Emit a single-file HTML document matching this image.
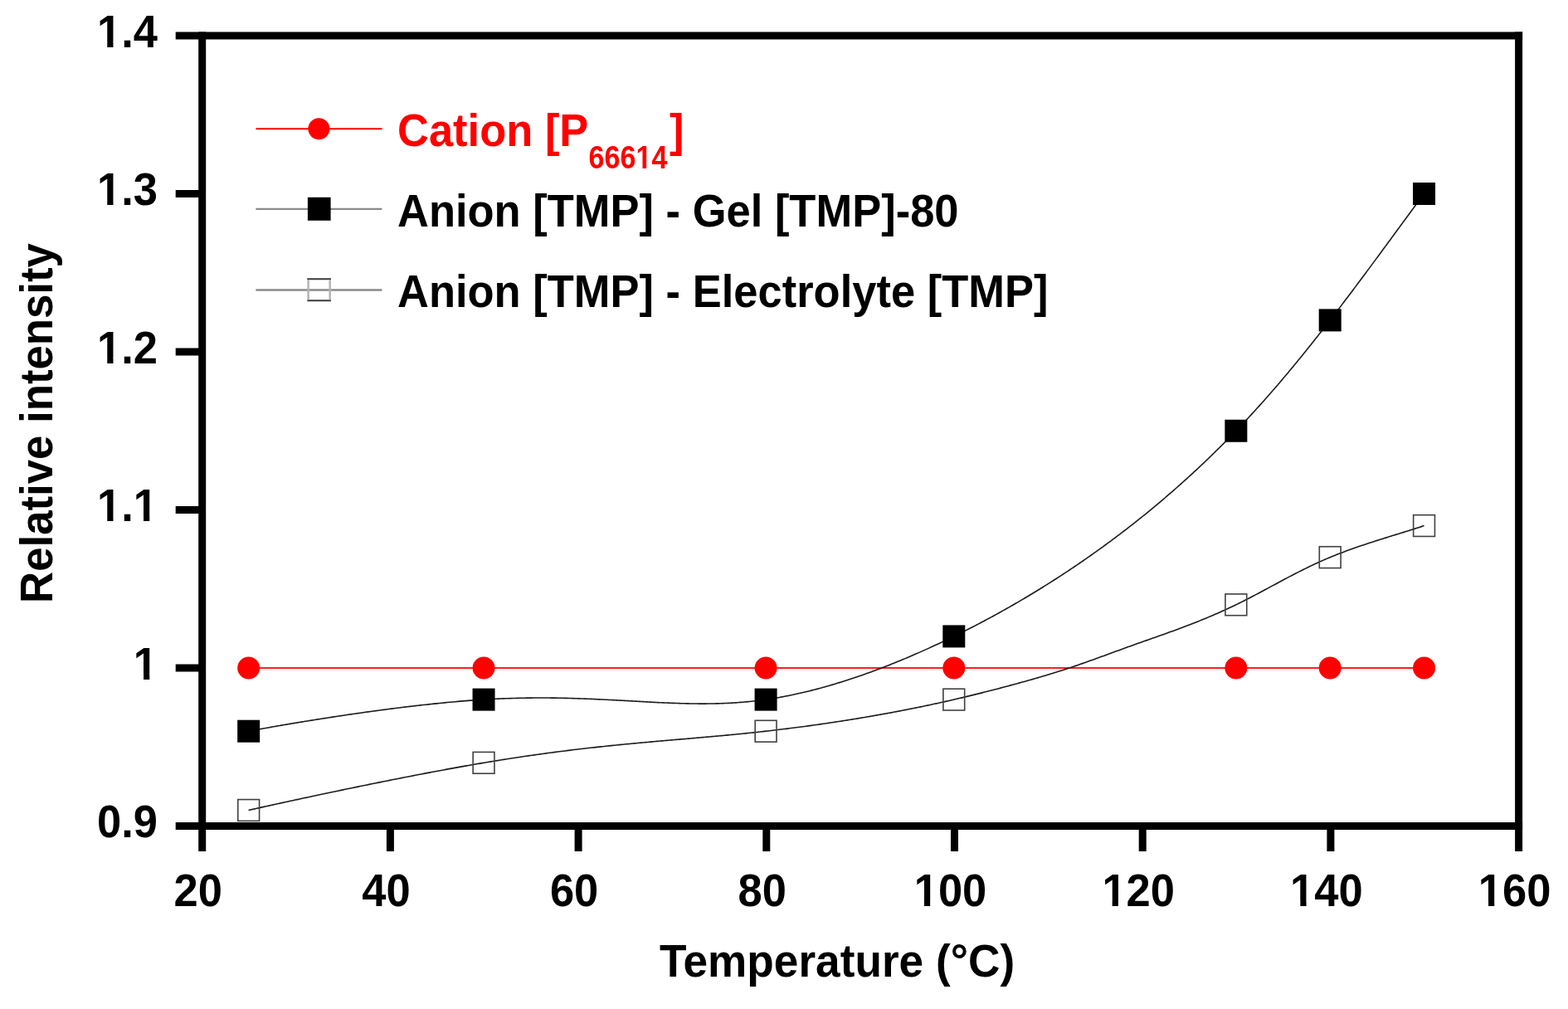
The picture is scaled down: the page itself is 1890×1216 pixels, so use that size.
<!DOCTYPE html>
<html><head><meta charset="utf-8"><title>Relative intensity vs Temperature</title>
<style>
html,body{margin:0;padding:0;background:#fff;}
body{width:1890px;height:1216px;overflow:hidden;}
svg{display:block;}
text{font-family:"Liberation Sans", Arial, Helvetica, sans-serif;font-weight:bold;}
</style></head><body>
<svg width="1890" height="1216" viewBox="0 0 1890 1216">
<rect width="1890" height="1216" fill="#fff"/>

<line x1="299.68" y1="805.00" x2="1716.55" y2="805.00" stroke="#ff2020" stroke-width="2"/>
<circle cx="299.68" cy="805.00" r="13.5" fill="#ff0000"/>
<circle cx="583.05" cy="805.00" r="13.5" fill="#ff0000"/>
<circle cx="923.10" cy="805.00" r="13.5" fill="#ff0000"/>
<circle cx="1149.80" cy="805.00" r="13.5" fill="#ff0000"/>
<circle cx="1489.85" cy="805.00" r="13.5" fill="#ff0000"/>
<circle cx="1603.20" cy="805.00" r="13.5" fill="#ff0000"/>
<circle cx="1716.55" cy="805.00" r="13.5" fill="#ff0000"/>
<polyline points="299.68,881.20 299.71,881.19 299.81,881.18 299.97,881.14 300.20,881.10 300.48,881.05 300.84,880.98 301.25,880.90 301.73,880.81 302.26,880.71 302.86,880.60 303.51,880.48 304.23,880.35 305.00,880.21 305.83,880.06 306.71,879.89 307.65,879.72 308.65,879.54 309.70,879.35 310.80,879.15 311.96,878.94 313.17,878.72 314.43,878.49 315.74,878.26 317.10,878.01 318.52,877.76 319.98,877.50 321.49,877.23 323.04,876.95 324.65,876.67 326.30,876.38 327.99,876.08 329.74,875.78 331.52,875.47 333.35,875.15 335.22,874.83 337.14,874.50 339.09,874.16 341.09,873.82 343.13,873.47 345.20,873.12 347.32,872.76 349.47,872.40 351.67,872.03 353.89,871.65 356.16,871.28 358.46,870.89 360.79,870.51 363.16,870.12 365.57,869.72 368.00,869.33 370.47,868.93 372.97,868.52 375.50,868.11 378.06,867.70 380.65,867.29 383.27,866.88 385.91,866.46 388.59,866.04 391.29,865.62 394.01,865.19 396.77,864.77 399.54,864.34 402.34,863.91 405.17,863.48 408.01,863.05 410.88,862.62 413.77,862.19 416.68,861.76 419.62,861.33 422.57,860.89 425.53,860.46 428.52,860.03 431.53,859.60 434.55,859.17 437.58,858.74 440.63,858.31 443.70,857.89 446.78,857.46 449.88,857.04 452.98,856.61 456.10,856.19 459.23,855.78 462.37,855.36 465.52,854.95 468.68,854.54 471.85,854.13 475.02,853.73 478.20,853.32 481.39,852.93 484.59,852.53 487.79,852.14 490.99,851.76 494.20,851.38 497.41,851.00 500.63,850.62 503.84,850.26 507.06,849.89 510.28,849.53 513.49,849.18 516.71,848.83 519.92,848.49 523.13,848.16 526.34,847.83 529.55,847.50 532.75,847.18 535.95,846.87 539.14,846.57 542.32,846.27 545.50,845.98 548.67,845.70 551.83,845.42 554.98,845.15 558.12,844.89 561.25,844.64 564.38,844.40 567.48,844.16 570.58,843.93 573.66,843.72 576.73,843.51 579.79,843.30 582.83,843.11 585.85,842.93 588.86,842.76 591.86,842.60 594.83,842.44 597.80,842.30 600.74,842.16 603.68,842.03 606.59,841.91 609.50,841.80 612.38,841.70 615.26,841.60 618.12,841.51 620.96,841.43 623.79,841.36 626.61,841.30 629.41,841.24 632.20,841.19 634.98,841.15 637.74,841.11 640.49,841.08 643.23,841.06 645.95,841.04 648.66,841.03 651.36,841.03 654.04,841.03 656.72,841.04 659.38,841.05 662.02,841.07 664.66,841.10 667.28,841.13 669.90,841.16 672.50,841.20 675.09,841.25 677.66,841.30 680.23,841.35 682.79,841.41 685.33,841.48 687.86,841.54 690.39,841.62 692.90,841.69 695.40,841.77 697.89,841.85 700.38,841.94 702.85,842.03 705.31,842.12 707.76,842.22 710.21,842.32 712.64,842.42 715.06,842.52 717.48,842.63 719.88,842.74 722.28,842.85 724.67,842.96 727.05,843.07 729.42,843.19 731.78,843.31 734.14,843.43 736.48,843.55 738.82,843.67 741.15,843.79 743.47,843.92 745.79,844.04 748.10,844.17 750.40,844.29 752.69,844.42 754.98,844.55 757.26,844.67 759.53,844.80 761.80,844.92 764.06,845.05 766.31,845.17 768.56,845.30 770.80,845.42 773.03,845.54 775.26,845.66 777.49,845.78 779.71,845.90 781.92,846.02 784.13,846.14 786.33,846.25 788.53,846.36 790.72,846.47 792.91,846.58 795.09,846.68 797.27,846.78 799.45,846.88 801.62,846.98 803.78,847.07 805.95,847.16 808.11,847.25 810.26,847.33 812.42,847.41 814.56,847.49 816.71,847.56 818.85,847.63 820.99,847.69 823.13,847.75 825.27,847.81 827.40,847.86 829.53,847.91 831.65,847.95 833.78,847.99 835.90,848.02 838.02,848.04 840.14,848.06 842.26,848.08 844.38,848.09 846.50,848.09 848.61,848.09 850.72,848.08 852.84,848.07 854.95,848.05 857.06,848.02 859.17,847.98 861.28,847.94 863.39,847.89 865.50,847.84 867.61,847.78 869.72,847.71 871.83,847.63 873.95,847.54 876.06,847.45 878.17,847.35 880.28,847.24 882.40,847.12 884.52,846.99 886.63,846.86 888.75,846.72 890.87,846.56 892.99,846.40 895.12,846.23 897.24,846.05 899.37,845.86 901.50,845.66 903.64,845.46 905.77,845.24 907.91,845.01 910.05,844.77 912.19,844.52 914.34,844.26 916.49,843.99 918.64,843.71 920.80,843.42 922.96,843.12 925.13,842.81 927.29,842.48 929.47,842.15 931.64,841.80 933.82,841.44 936.00,841.07 938.19,840.70 940.38,840.31 942.57,839.91 944.76,839.50 946.96,839.07 949.16,838.64 951.37,838.20 953.58,837.75 955.79,837.29 958.00,836.81 960.21,836.33 962.43,835.84 964.65,835.34 966.88,834.83 969.10,834.30 971.33,833.77 973.56,833.23 975.79,832.68 978.03,832.12 980.27,831.55 982.50,830.97 984.74,830.38 986.99,829.79 989.23,829.18 991.48,828.57 993.73,827.94 995.98,827.31 998.23,826.67 1000.48,826.02 1002.73,825.36 1004.99,824.69 1007.25,824.01 1009.50,823.33 1011.76,822.63 1014.02,821.93 1016.29,821.22 1018.55,820.50 1020.81,819.78 1023.07,819.04 1025.34,818.30 1027.60,817.55 1029.87,816.79 1032.14,816.03 1034.40,815.25 1036.67,814.47 1038.94,813.68 1041.21,812.89 1043.47,812.08 1045.74,811.27 1048.01,810.45 1050.28,809.63 1052.55,808.80 1054.82,807.96 1057.08,807.11 1059.35,806.26 1061.62,805.40 1063.89,804.53 1066.15,803.66 1068.42,802.78 1070.68,801.89 1072.95,800.99 1075.21,800.09 1077.47,799.19 1079.74,798.28 1082.00,797.36 1084.26,796.43 1086.52,795.50 1088.77,794.56 1091.03,793.62 1093.29,792.67 1095.54,791.72 1097.79,790.76 1100.05,789.79 1102.30,788.82 1104.54,787.84 1106.79,786.86 1109.03,785.87 1111.28,784.88 1113.52,783.88 1115.76,782.88 1117.99,781.87 1120.23,780.86 1122.46,779.84 1124.69,778.82 1126.92,777.79 1129.15,776.76 1131.37,775.72 1133.59,774.68 1135.81,773.63 1138.02,772.58 1140.24,771.52 1142.45,770.46 1144.65,769.40 1146.86,768.33 1149.06,767.26 1151.26,766.19 1153.45,765.11 1155.65,764.02 1157.84,762.93 1160.02,761.84 1162.21,760.75 1164.39,759.65 1166.56,758.54 1168.74,757.43 1170.91,756.32 1173.08,755.21 1175.24,754.09 1177.40,752.96 1179.56,751.84 1181.72,750.71 1183.87,749.57 1186.02,748.43 1188.16,747.29 1190.31,746.14 1192.45,744.99 1194.58,743.84 1196.72,742.68 1198.85,741.52 1200.97,740.35 1203.10,739.18 1205.22,738.01 1207.34,736.83 1209.45,735.65 1211.56,734.47 1213.67,733.28 1215.78,732.09 1217.88,730.89 1219.98,729.69 1222.07,728.49 1224.16,727.28 1226.25,726.07 1228.34,724.85 1230.42,723.64 1232.50,722.41 1234.58,721.19 1236.65,719.96 1238.72,718.73 1240.79,717.49 1242.85,716.25 1244.92,715.00 1246.97,713.76 1249.03,712.51 1251.08,711.25 1253.13,709.99 1255.17,708.73 1257.21,707.46 1259.25,706.19 1261.28,704.92 1263.32,703.64 1265.34,702.36 1267.37,701.08 1269.39,699.79 1271.41,698.50 1273.43,697.21 1275.44,695.91 1277.45,694.61 1279.45,693.30 1281.46,691.99 1283.45,690.68 1285.45,689.37 1287.44,688.05 1289.43,686.73 1291.42,685.40 1293.40,684.07 1295.38,682.74 1297.36,681.40 1299.33,680.06 1301.30,678.72 1303.27,677.37 1305.23,676.02 1307.19,674.67 1309.14,673.31 1311.10,671.95 1313.05,670.58 1314.99,669.22 1316.94,667.85 1318.88,666.47 1320.81,665.10 1322.75,663.71 1324.68,662.33 1326.60,660.94 1328.53,659.55 1330.45,658.16 1332.36,656.76 1334.27,655.36 1336.18,653.96 1338.09,652.55 1339.99,651.14 1341.89,649.72 1343.79,648.31 1345.68,646.89 1347.57,645.46 1349.46,644.04 1351.34,642.61 1353.22,641.17 1355.10,639.74 1356.97,638.30 1358.84,636.85 1360.70,635.41 1362.57,633.96 1364.42,632.51 1366.28,631.05 1368.13,629.59 1369.98,628.13 1371.83,626.66 1373.67,625.19 1375.51,623.72 1377.34,622.25 1379.17,620.77 1381.00,619.29 1382.83,617.80 1384.65,616.32 1386.47,614.83 1388.28,613.33 1390.09,611.84 1391.90,610.34 1393.70,608.84 1395.50,607.33 1397.30,605.82 1399.09,604.31 1400.88,602.79 1402.67,601.28 1404.45,599.76 1406.23,598.23 1408.01,596.70 1409.78,595.17 1411.55,593.64 1413.32,592.11 1415.08,590.57 1416.84,589.02 1418.59,587.48 1420.34,585.93 1422.09,584.38 1423.84,582.83 1425.58,581.27 1427.32,579.71 1429.05,578.15 1430.78,576.58 1432.51,575.02 1434.23,573.44 1435.95,571.87 1437.67,570.29 1439.38,568.71 1441.09,567.13 1442.80,565.55 1444.50,563.96 1446.20,562.37 1447.89,560.77 1449.58,559.18 1451.27,557.58 1452.96,555.97 1454.64,554.37 1456.31,552.76 1457.99,551.15 1459.66,549.54 1461.32,547.92 1462.99,546.30 1464.65,544.68 1466.30,543.05 1467.95,541.43 1469.60,539.80 1471.25,538.16 1472.89,536.53 1474.53,534.89 1476.16,533.25 1477.79,531.61 1479.42,529.96 1481.04,528.31 1482.66,526.66 1484.28,525.00 1485.89,523.35 1487.50,521.69 1489.10,520.03 1490.70,518.36 1492.30,516.69 1493.90,515.02 1495.49,513.35 1497.07,511.67 1498.66,510.00 1500.24,508.31 1501.82,506.63 1503.39,504.94 1504.96,503.25 1506.53,501.56 1508.10,499.86 1509.66,498.16 1511.22,496.46 1512.78,494.76 1514.33,493.05 1515.88,491.33 1517.43,489.62 1518.98,487.90 1520.52,486.18 1522.07,484.45 1523.61,482.72 1525.14,480.99 1526.68,479.25 1528.21,477.51 1529.74,475.77 1531.27,474.02 1532.80,472.27 1534.33,470.52 1535.85,468.76 1537.38,467.00 1538.90,465.23 1540.42,463.46 1541.94,461.69 1543.45,459.91 1544.97,458.13 1546.48,456.34 1548.00,454.55 1549.51,452.76 1551.02,450.96 1552.53,449.16 1554.04,447.35 1555.55,445.54 1557.06,443.72 1558.57,441.90 1560.08,440.08 1561.58,438.25 1563.09,436.42 1564.59,434.58 1566.10,432.74 1567.61,430.89 1569.11,429.04 1570.62,427.18 1572.12,425.32 1573.63,423.45 1575.13,421.58 1576.64,419.71 1578.14,417.83 1579.65,415.94 1581.16,414.05 1582.66,412.16 1584.17,410.25 1585.68,408.35 1587.19,406.44 1588.70,404.52 1590.21,402.60 1591.72,400.67 1593.23,398.74 1594.74,396.80 1596.26,394.86 1597.77,392.91 1599.29,390.96 1600.81,389.00 1602.33,387.03 1603.85,385.06 1605.37,383.09 1606.89,381.10 1608.42,379.12 1609.94,377.13 1611.47,375.13 1612.99,373.13 1614.52,371.13 1616.05,369.12 1617.58,367.11 1619.10,365.10 1620.63,363.08 1622.16,361.06 1623.68,359.04 1625.21,357.02 1626.74,355.00 1628.26,352.97 1629.78,350.95 1631.30,348.92 1632.82,346.89 1634.34,344.86 1635.86,342.84 1637.38,340.81 1638.89,338.78 1640.40,336.76 1641.91,334.73 1643.41,332.71 1644.92,330.69 1646.42,328.67 1647.91,326.65 1649.41,324.64 1650.90,322.63 1652.38,320.62 1653.87,318.62 1655.35,316.62 1656.82,314.62 1658.30,312.63 1659.76,310.64 1661.23,308.66 1662.68,306.68 1664.14,304.71 1665.59,302.74 1667.03,300.78 1668.47,298.82 1669.90,296.88 1671.33,294.94 1672.75,293.00 1674.16,291.08 1675.57,289.16 1676.98,287.25 1678.37,285.34 1679.76,283.45 1681.15,281.57 1682.53,279.69 1683.90,277.82 1685.26,275.97 1686.61,274.12 1687.96,272.28 1689.30,270.46 1690.64,268.64 1691.96,266.84 1693.28,265.04 1694.59,263.26 1695.89,261.49 1697.18,259.73 1698.46,257.99 1699.73,256.26 1701.00,254.54 1702.26,252.83 1703.50,251.14 1704.74,249.46 1705.97,247.80 1707.18,246.15 1708.39,244.51 1709.59,242.89 1710.78,241.29 1711.95,239.70 1713.12,238.12 1714.27,236.57 1715.42,235.02 1716.55,233.50" fill="none" stroke="#1a1a1a" stroke-width="1.6" stroke-linejoin="round"/>
<rect x="286.18" y="867.70" width="27.00" height="27.00" fill="#000"/>
<rect x="569.55" y="829.60" width="27.00" height="27.00" fill="#000"/>
<rect x="909.60" y="829.60" width="27.00" height="27.00" fill="#000"/>
<rect x="1136.30" y="753.40" width="27.00" height="27.00" fill="#000"/>
<rect x="1476.35" y="505.75" width="27.00" height="27.00" fill="#000"/>
<rect x="1589.70" y="372.40" width="27.00" height="27.00" fill="#000"/>
<rect x="1703.05" y="220.00" width="27.00" height="27.00" fill="#000"/>
<polyline points="299.68,976.45 299.70,976.44 299.78,976.43 299.90,976.40 300.08,976.36 300.30,976.31 300.58,976.25 300.90,976.17 301.27,976.09 301.69,976.00 302.15,975.89 302.66,975.78 303.22,975.65 303.82,975.52 304.47,975.37 305.16,975.22 305.89,975.05 306.67,974.88 307.50,974.69 308.36,974.50 309.27,974.30 310.22,974.08 311.21,973.86 312.24,973.63 313.31,973.39 314.43,973.15 315.58,972.89 316.77,972.63 318.00,972.35 319.27,972.07 320.57,971.78 321.91,971.49 323.29,971.18 324.71,970.87 326.16,970.55 327.65,970.22 329.17,969.89 330.72,969.55 332.31,969.20 333.94,968.84 335.59,968.48 337.28,968.11 339.00,967.73 340.76,967.35 342.54,966.96 344.36,966.57 346.20,966.16 348.08,965.76 349.98,965.34 351.92,964.92 353.88,964.50 355.87,964.07 357.88,963.63 359.93,963.19 362.00,962.74 364.10,962.29 366.22,961.84 368.37,961.38 370.54,960.91 372.74,960.44 374.96,959.97 377.20,959.49 379.47,959.00 381.76,958.52 384.07,958.02 386.40,957.53 388.76,957.03 391.13,956.53 393.53,956.02 395.94,955.51 398.38,955.00 400.83,954.48 403.30,953.97 405.79,953.44 408.29,952.92 410.82,952.39 413.36,951.86 415.91,951.33 418.48,950.80 421.07,950.26 423.67,949.72 426.28,949.18 428.91,948.64 431.55,948.10 434.21,947.55 436.88,947.01 439.55,946.46 442.24,945.91 444.95,945.36 447.66,944.81 450.38,944.26 453.11,943.71 455.85,943.15 458.60,942.60 461.35,942.05 464.12,941.49 466.89,940.94 469.67,940.38 472.45,939.83 475.24,939.28 478.04,938.72 480.84,938.17 483.65,937.62 486.46,937.07 489.27,936.52 492.08,935.97 494.90,935.42 497.72,934.87 500.55,934.33 503.37,933.78 506.19,933.24 509.02,932.70 511.84,932.16 514.67,931.62 517.49,931.09 520.31,930.55 523.13,930.02 525.95,929.50 528.76,928.97 531.57,928.45 534.38,927.93 537.18,927.41 539.98,926.90 542.77,926.39 545.56,925.88 548.34,925.37 551.11,924.87 553.88,924.38 556.64,923.88 559.39,923.40 562.13,922.91 564.86,922.43 567.59,921.95 570.30,921.48 573.01,921.01 575.70,920.55 578.38,920.09 581.05,919.64 583.71,919.19 586.36,918.75 588.99,918.31 591.61,917.87 594.22,917.44 596.82,917.02 599.41,916.60 601.98,916.19 604.54,915.78 607.09,915.37 609.63,914.97 612.16,914.58 614.67,914.19 617.18,913.80 619.67,913.42 622.15,913.04 624.62,912.67 627.08,912.30 629.53,911.94 631.97,911.58 634.40,911.22 636.82,910.87 639.22,910.52 641.62,910.18 644.01,909.84 646.39,909.50 648.75,909.17 651.11,908.85 653.46,908.52 655.80,908.20 658.12,907.89 660.44,907.57 662.75,907.26 665.05,906.96 667.34,906.66 669.63,906.36 671.90,906.07 674.16,905.77 676.42,905.49 678.67,905.20 680.91,904.92 683.14,904.64 685.36,904.37 687.57,904.10 689.78,903.83 691.98,903.56 694.17,903.30 696.35,903.04 698.52,902.79 700.69,902.53 702.85,902.28 705.00,902.04 707.14,901.79 709.28,901.55 711.41,901.31 713.53,901.07 715.65,900.84 717.76,900.61 719.86,900.38 721.96,900.15 724.05,899.92 726.13,899.70 728.21,899.48 730.28,899.27 732.34,899.05 734.40,898.84 736.45,898.63 738.50,898.42 740.54,898.21 742.58,898.00 744.61,897.80 746.63,897.60 748.65,897.40 750.67,897.20 752.68,897.01 754.68,896.81 756.68,896.62 758.67,896.43 760.66,896.24 762.65,896.06 764.63,895.87 766.61,895.68 768.58,895.50 770.55,895.32 772.51,895.14 774.47,894.96 776.43,894.78 778.38,894.60 780.33,894.43 782.28,894.25 784.22,894.08 786.16,893.91 788.09,893.74 790.02,893.57 791.95,893.40 793.88,893.23 795.80,893.06 797.72,892.89 799.64,892.72 801.56,892.56 803.47,892.39 805.38,892.23 807.29,892.06 809.19,891.90 811.10,891.73 813.00,891.57 814.90,891.41 816.80,891.25 818.70,891.08 820.59,890.92 822.49,890.76 824.38,890.60 826.27,890.43 828.16,890.27 830.05,890.11 831.94,889.95 833.83,889.78 835.71,889.62 837.60,889.46 839.49,889.30 841.37,889.13 843.26,888.97 845.14,888.80 847.03,888.64 848.91,888.47 850.80,888.31 852.68,888.14 854.57,887.97 856.45,887.81 858.34,887.64 860.22,887.47 862.11,887.30 864.00,887.13 865.89,886.96 867.78,886.78 869.67,886.61 871.56,886.44 873.46,886.26 875.35,886.08 877.25,885.90 879.15,885.73 881.05,885.54 882.95,885.36 884.85,885.18 886.76,884.99 888.67,884.81 890.58,884.62 892.49,884.43 894.40,884.24 896.32,884.05 898.24,883.85 900.17,883.66 902.09,883.46 904.02,883.26 905.95,883.06 907.89,882.86 909.82,882.65 911.76,882.44 913.71,882.23 915.66,882.02 917.61,881.81 919.57,881.59 921.52,881.38 923.49,881.16 925.46,880.93 927.43,880.71 929.40,880.48 931.38,880.25 933.36,880.02 935.35,879.79 937.34,879.55 939.34,879.31 941.33,879.07 943.33,878.83 945.34,878.58 947.35,878.34 949.36,878.09 951.37,877.83 953.39,877.58 955.41,877.32 957.43,877.06 959.46,876.80 961.49,876.54 963.52,876.27 965.56,876.00 967.60,875.73 969.64,875.46 971.68,875.18 973.73,874.90 975.78,874.62 977.83,874.34 979.88,874.06 981.94,873.77 984.00,873.48 986.06,873.19 988.12,872.89 990.19,872.60 992.25,872.30 994.32,872.00 996.39,871.69 998.47,871.39 1000.54,871.08 1002.62,870.77 1004.70,870.46 1006.78,870.14 1008.86,869.83 1010.95,869.51 1013.03,869.18 1015.12,868.86 1017.21,868.53 1019.30,868.21 1021.39,867.87 1023.48,867.54 1025.57,867.20 1027.67,866.87 1029.76,866.53 1031.86,866.18 1033.96,865.84 1036.05,865.49 1038.15,865.14 1040.25,864.79 1042.35,864.43 1044.46,864.08 1046.56,863.72 1048.66,863.36 1050.76,862.99 1052.87,862.63 1054.97,862.26 1057.07,861.89 1059.18,861.52 1061.28,861.14 1063.39,860.76 1065.49,860.38 1067.60,860.00 1069.70,859.61 1071.81,859.23 1073.91,858.84 1076.02,858.45 1078.12,858.05 1080.22,857.66 1082.33,857.26 1084.43,856.86 1086.53,856.45 1088.64,856.05 1090.74,855.64 1092.84,855.23 1094.94,854.82 1097.04,854.40 1099.13,853.98 1101.23,853.56 1103.33,853.14 1105.42,852.72 1107.52,852.29 1109.61,851.86 1111.70,851.43 1113.80,851.00 1115.88,850.56 1117.97,850.12 1120.06,849.68 1122.15,849.24 1124.23,848.79 1126.31,848.34 1128.39,847.89 1130.47,847.44 1132.55,846.99 1134.62,846.53 1136.70,846.07 1138.77,845.61 1140.84,845.14 1142.90,844.68 1144.97,844.21 1147.03,843.74 1149.09,843.26 1151.15,842.79 1153.21,842.31 1155.26,841.83 1157.32,841.34 1159.37,840.86 1161.41,840.37 1163.46,839.88 1165.50,839.39 1167.55,838.90 1169.59,838.40 1171.63,837.90 1173.67,837.40 1175.70,836.90 1177.74,836.39 1179.77,835.89 1181.81,835.38 1183.84,834.87 1185.87,834.35 1187.90,833.84 1189.93,833.32 1191.96,832.80 1193.98,832.28 1196.01,831.76 1198.04,831.24 1200.06,830.71 1202.09,830.18 1204.12,829.65 1206.14,829.12 1208.17,828.58 1210.19,828.05 1212.22,827.51 1214.24,826.97 1216.27,826.43 1218.29,825.89 1220.31,825.34 1222.34,824.80 1224.36,824.25 1226.39,823.70 1228.41,823.14 1230.43,822.59 1232.45,822.03 1234.48,821.47 1236.50,820.90 1238.52,820.33 1240.54,819.76 1242.56,819.19 1244.58,818.62 1246.60,818.04 1248.61,817.46 1250.63,816.87 1252.65,816.28 1254.66,815.69 1256.68,815.10 1258.69,814.50 1260.70,813.90 1262.71,813.29 1264.72,812.68 1266.73,812.07 1268.74,811.45 1270.74,810.83 1272.75,810.21 1274.75,809.58 1276.76,808.94 1278.76,808.31 1280.76,807.66 1282.75,807.02 1284.75,806.37 1286.75,805.71 1288.74,805.05 1290.73,804.39 1292.72,803.72 1294.71,803.05 1296.70,802.37 1298.68,801.69 1300.67,801.00 1302.65,800.31 1304.63,799.62 1306.61,798.93 1308.59,798.23 1310.57,797.53 1312.55,796.82 1314.52,796.12 1316.50,795.41 1318.48,794.70 1320.45,793.98 1322.42,793.27 1324.40,792.55 1326.37,791.83 1328.34,791.12 1330.31,790.40 1332.28,789.68 1334.25,788.95 1336.22,788.23 1338.19,787.51 1340.16,786.79 1342.13,786.07 1344.10,785.34 1346.07,784.62 1348.05,783.90 1350.02,783.18 1351.99,782.46 1353.96,781.74 1355.93,781.03 1357.90,780.31 1359.87,779.60 1361.85,778.89 1363.82,778.18 1365.79,777.47 1367.77,776.77 1369.74,776.06 1371.72,775.36 1373.69,774.66 1375.67,773.96 1377.65,773.26 1379.62,772.56 1381.60,771.87 1383.58,771.17 1385.56,770.47 1387.53,769.78 1389.51,769.08 1391.49,768.38 1393.47,767.68 1395.45,766.99 1397.42,766.29 1399.40,765.58 1401.38,764.88 1403.35,764.18 1405.33,763.47 1407.31,762.76 1409.28,762.05 1411.26,761.34 1413.23,760.63 1415.20,759.91 1417.18,759.19 1419.15,758.46 1421.12,757.73 1423.09,757.00 1425.06,756.26 1427.03,755.52 1429.00,754.78 1430.96,754.03 1432.93,753.28 1434.90,752.52 1436.86,751.76 1438.82,750.99 1440.78,750.22 1442.74,749.44 1444.69,748.66 1446.65,747.88 1448.60,747.08 1450.55,746.29 1452.50,745.49 1454.44,744.68 1456.39,743.87 1458.33,743.05 1460.26,742.23 1462.19,741.41 1464.13,740.58 1466.05,739.74 1467.97,738.90 1469.89,738.05 1471.81,737.20 1473.72,736.34 1475.63,735.48 1477.53,734.61 1479.43,733.73 1481.33,732.85 1483.22,731.97 1485.10,731.08 1486.99,730.18 1488.86,729.28 1490.73,728.37 1492.60,727.46 1494.46,726.54 1496.32,725.61 1498.17,724.69 1500.02,723.75 1501.86,722.81 1503.70,721.87 1505.54,720.93 1507.37,719.98 1509.21,719.02 1511.04,718.06 1512.86,717.10 1514.69,716.14 1516.51,715.18 1518.34,714.21 1520.16,713.24 1521.98,712.26 1523.80,711.29 1525.62,710.31 1527.44,709.34 1529.26,708.36 1531.08,707.38 1532.90,706.40 1534.72,705.42 1536.54,704.44 1538.37,703.45 1540.20,702.47 1542.02,701.49 1543.85,700.51 1545.69,699.53 1547.52,698.56 1549.36,697.58 1551.21,696.60 1553.05,695.63 1554.90,694.66 1556.76,693.69 1558.61,692.72 1560.48,691.76 1562.35,690.80 1564.22,689.84 1566.10,688.89 1567.98,687.93 1569.87,686.99 1571.77,686.04 1573.67,685.10 1575.58,684.17 1577.50,683.24 1579.42,682.31 1581.35,681.39 1583.29,680.48 1585.24,679.57 1587.19,678.66 1589.16,677.76 1591.13,676.87 1593.11,675.99 1595.10,675.11 1597.10,674.24 1599.11,673.37 1601.13,672.51 1603.16,671.67 1605.21,670.82 1607.26,669.99 1609.32,669.16 1611.39,668.34 1613.47,667.53 1615.55,666.73 1617.64,665.93 1619.74,665.14 1621.84,664.35 1623.95,663.58 1626.06,662.81 1628.18,662.05 1630.30,661.29 1632.42,660.54 1634.54,659.80 1636.67,659.07 1638.79,658.34 1640.91,657.61 1643.04,656.90 1645.16,656.19 1647.28,655.48 1649.39,654.78 1651.50,654.09 1653.61,653.41 1655.71,652.73 1657.81,652.05 1659.90,651.38 1661.99,650.72 1664.06,650.06 1666.13,649.41 1668.19,648.76 1670.24,648.12 1672.28,647.48 1674.31,646.85 1676.33,646.23 1678.34,645.60 1680.33,644.99 1682.31,644.38 1684.28,643.77 1686.23,643.17 1688.17,642.57 1690.09,641.97 1691.99,641.39 1693.88,640.80 1695.75,640.22 1697.60,639.64 1699.43,639.07 1701.24,638.50 1703.03,637.94 1704.80,637.38 1706.55,636.82 1708.28,636.27 1709.98,635.72 1711.66,635.17 1713.32,634.63 1714.95,634.09 1716.55,633.55" fill="none" stroke="#1a1a1a" stroke-width="1.6" stroke-linejoin="round"/>
<rect x="286.78" y="963.55" width="25.80" height="25.80" fill="none" stroke="#404040" stroke-width="1.6"/>
<rect x="570.15" y="906.40" width="25.80" height="25.80" fill="none" stroke="#404040" stroke-width="1.6"/>
<rect x="910.20" y="868.30" width="25.80" height="25.80" fill="none" stroke="#404040" stroke-width="1.6"/>
<rect x="1136.90" y="830.20" width="25.80" height="25.80" fill="none" stroke="#404040" stroke-width="1.6"/>
<rect x="1476.95" y="715.90" width="25.80" height="25.80" fill="none" stroke="#404040" stroke-width="1.6"/>
<rect x="1590.30" y="658.75" width="25.80" height="25.80" fill="none" stroke="#404040" stroke-width="1.6"/>
<rect x="1703.65" y="620.65" width="25.80" height="25.80" fill="none" stroke="#404040" stroke-width="1.6"/>
<g stroke="#000" stroke-width="9" fill="none" stroke-linecap="butt">
<line x1="211.7" y1="43" x2="1835.1" y2="43"/>
<line x1="211.7" y1="995.5" x2="1835.1" y2="995.5"/>
<line x1="243.7" y1="38.5" x2="243.7" y2="1026"/>
<line x1="1830.6" y1="38.5" x2="1830.6" y2="1026"/>
<line x1="211.7" y1="233.50" x2="243.7" y2="233.50"/>
<line x1="211.7" y1="424.00" x2="243.7" y2="424.00"/>
<line x1="211.7" y1="614.50" x2="243.7" y2="614.50"/>
<line x1="211.7" y1="805.00" x2="243.7" y2="805.00"/>
<line x1="470.40" y1="995.5" x2="470.40" y2="1026"/>
<line x1="697.10" y1="995.5" x2="697.10" y2="1026"/>
<line x1="923.80" y1="995.5" x2="923.80" y2="1026"/>
<line x1="1150.50" y1="995.5" x2="1150.50" y2="1026"/>
<line x1="1377.20" y1="995.5" x2="1377.20" y2="1026"/>
<line x1="1603.90" y1="995.5" x2="1603.90" y2="1026"/>
</g>
<text transform="translate(190.00,56.60) scale(1,1.045)" font-size="52.5" text-anchor="end">1.4</text>
<text transform="translate(190.00,247.10) scale(1,1.045)" font-size="52.5" text-anchor="end">1.3</text>
<text transform="translate(190.00,437.60) scale(1,1.045)" font-size="52.5" text-anchor="end">1.2</text>
<text transform="translate(190.00,628.10) scale(1,1.045)" font-size="52.5" text-anchor="end">1.1</text>
<text transform="translate(190.00,818.60) scale(1,1.045)" font-size="52.5" text-anchor="end">1</text>
<text transform="translate(190.00,1009.10) scale(1,1.045)" font-size="52.5" text-anchor="end">0.9</text>
<text transform="translate(238.70,1092.00) scale(1,1.045)" font-size="52.5" text-anchor="middle">20</text>
<text transform="translate(465.40,1092.00) scale(1,1.045)" font-size="52.5" text-anchor="middle">40</text>
<text transform="translate(692.10,1092.00) scale(1,1.045)" font-size="52.5" text-anchor="middle">60</text>
<text transform="translate(918.80,1092.00) scale(1,1.045)" font-size="52.5" text-anchor="middle">80</text>
<text transform="translate(1145.50,1092.00) scale(1,1.045)" font-size="52.5" text-anchor="middle">100</text>
<text transform="translate(1372.20,1092.00) scale(1,1.045)" font-size="52.5" text-anchor="middle">120</text>
<text transform="translate(1598.90,1092.00) scale(1,1.045)" font-size="52.5" text-anchor="middle">140</text>
<text transform="translate(1825.60,1092.00) scale(1,1.045)" font-size="52.5" text-anchor="middle">160</text>
<text transform="translate(1009.00,1177.00) scale(1,1.045)" font-size="53.2" text-anchor="middle">Temperature (°C)</text>
<text transform="translate(63,510) rotate(-90) scale(1,1.045)" font-size="52.75" text-anchor="middle">Relative intensity</text>
<line x1="308.4" y1="155.3" x2="460.6" y2="155.3" stroke="#ff0000" stroke-width="2"/>
<circle cx="384.4" cy="155.3" r="13" fill="#ff0000"/>
<line x1="308.4" y1="251.9" x2="460.4" y2="251.9" stroke="#8a8a8a" stroke-width="2.4"/>
<rect x="370.9" y="237.8" width="27.7" height="28" fill="#000"/>
<line x1="308.4" y1="349.5" x2="460.4" y2="349.5" stroke="#8a8a8a" stroke-width="2.4"/>
<g fill="none"><path d="M370.3 336.3H399M370.3 362.3H399" stroke="#3a3a3a" stroke-width="2"/><path d="M371.6 337.3V361.3M397.7 337.3V361.3" stroke="#b4b4b4" stroke-width="2.5"/></g>
<text transform="translate(479.00,175.50) scale(1,1.045)" font-size="52.5" fill="#ff0000">Cation [P</text>
<text transform="translate(709.4,202.9) scale(0.978,1.1)" font-size="35" fill="#ff0000">66614</text>
<text transform="translate(806.90,175.50) scale(1,1.045)" font-size="52.5" fill="#ff0000">]</text>
<text transform="translate(479.00,272.60) scale(1,1.045)" font-size="52.5">Anion [TMP] - Gel [TMP]-80</text>
<text transform="translate(479.00,370.00) scale(1,1.045)" font-size="52.5">Anion [TMP] - Electrolyte [TMP]</text>
<path d="M119.13 50.40H129.27V57.80H119.13Z M136.48 50.40H145.96V57.80H136.48Z M119.13 240.90H129.27V248.30H119.13Z M136.48 240.90H145.96V248.30H136.48Z M119.13 431.40H129.27V438.80H119.13Z M136.48 431.40H145.96V438.80H136.48Z M119.13 621.90H129.27V629.30H119.13Z M136.48 621.90H145.96V629.30H136.48Z M162.90 621.90H173.04V629.30H162.90Z M180.25 621.90H189.73V629.30H180.25Z M162.91 812.40H173.06V819.80H162.91Z M180.26 812.40H189.74V819.80H180.26Z M1103.81 1085.80H1113.96V1093.20H1103.81Z M1121.16 1085.80H1130.64V1093.20H1121.16Z M1330.51 1085.80H1340.66V1093.20H1330.51Z M1347.86 1085.80H1357.34V1093.20H1347.86Z M1557.21 1085.80H1567.36V1093.20H1557.21Z M1574.56 1085.80H1584.04V1093.20H1574.56Z M1783.91 1085.80H1794.06V1093.20H1783.91Z M1801.26 1085.80H1810.74V1093.20H1801.26Z M767.67 198.37H774.50V204.10H767.67Z M779.20 198.37H785.20V204.10H779.20Z" fill="#fff"/>
</svg>
</body></html>
